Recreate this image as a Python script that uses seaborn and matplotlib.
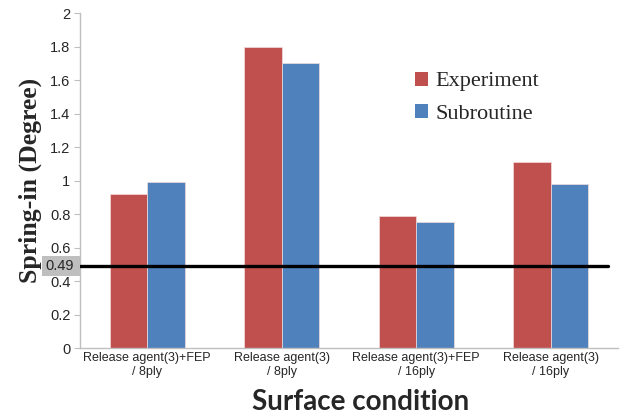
import matplotlib
matplotlib.use("Agg")
import matplotlib.pyplot as plt
import seaborn as sns
import pandas as pd
from matplotlib.patches import Rectangle
import matplotlib.transforms as mtransforms

categories = ["Release agent(3)+FEP\n/ 8ply", "Release agent(3)\n/ 8ply",
              "Release agent(3)+FEP\n/ 16ply", "Release agent(3)\n/ 16ply"]
experiment = [0.92, 1.80, 0.79, 1.11]
subroutine = [0.99, 1.70, 0.755, 0.98]
series_names = ["Experiment", "Subroutine"]
ref_value = 0.49
yticks = [0, 0.2, 0.4, 0.6, 0.8, 1.0, 1.2, 1.4, 1.6, 1.8, 2.0]
ytick_labels = ["0", "0.2", "0.4", "0.6", "0.8", "1", "1.2", "1.4", "1.6", "1.8", "2"]

df = pd.DataFrame({
    "cat": categories * 2,
    "series": [series_names[0]] * 4 + [series_names[1]] * 4,
    "value": experiment + subroutine,
})

sns.set_style("white")
fig = plt.figure(figsize=(6.26, 4.19), dpi=100)
ax = fig.add_axes([80 / 626, 1 - 348 / 419, (618 - 80) / 626, (348 - 13) / 419])

sns.barplot(data=df, x="cat", y="value", hue="series", order=categories,
            hue_order=series_names, palette=["#C0504D", "#4F81BD"],
            width=0.56, gap=0, ax=ax, errorbar=None, edgecolor="#f2dcdb",
            linewidth=0.5, saturation=1)

ax.set_xlim(-0.5, 3.5)
ax.set_ylim(0, 2)
ax.set_yticks(yticks)
ax.set_yticklabels(ytick_labels, fontsize=10.5, family="Liberation Sans")
ax.set_xticks(range(4))
ax.set_xticklabels(categories, fontsize=9, family="Liberation Sans", linespacing=1.25)
ax.set_xticks([-0.5, 0.5, 1.5, 2.5, 3.5], minor=True)
ax.tick_params(axis="x", which="major", length=0, pad=3)
ax.tick_params(axis="x", which="minor", length=5, color="#bfbfbf", direction="out")
ax.tick_params(axis="y", length=4, color="#bfbfbf", direction="out", left=True, pad=3)

for s in ["top", "right"]:
    ax.spines[s].set_visible(False)
for s in ["left", "bottom"]:
    ax.spines[s].set_color("#bfbfbf")
    ax.spines[s].set_linewidth(1.0)

ax.set_ylabel("Spring-in (Degree)", family="Liberation Serif", fontweight="bold",
              fontsize=18.5, labelpad=6)
ax.set_xlabel("Surface condition", family="Lato", fontweight="bold", fontsize=20)
ax.xaxis.set_label_coords((361 - 80) / 538, -(415 - 348) / 335, transform=ax.transAxes)
ax.xaxis.label.set_va("bottom")

# reference line
ax.axhline(ref_value, xmin=0, xmax=(608 - 80) / (618 - 80), color="black", lw=2.4, zorder=5)
trans = mtransforms.blended_transform_factory(ax.transAxes, ax.transData)
ax.add_patch(Rectangle((-38 / 538, ref_value - 0.058), 38 / 538, 0.116, transform=trans,
                       facecolor="#bfbfbf", edgecolor="none", clip_on=False, zorder=4))
ax.text(-0.012, ref_value, f"{ref_value}", transform=trans, ha="right", va="center",
        fontsize=10.5, family="Liberation Sans", zorder=6, clip_on=False)

leg = ax.legend(loc="upper left", bbox_to_anchor=(0.585, 0.885), frameon=False,
                prop={"family": "Liberation Serif", "size": 16},
                handlelength=0.6, handleheight=0.6, handletextpad=0.35,
                labelspacing=0.55)
for h in leg.legend_handles:
    h.set_edgecolor("none")

fig.savefig("out.png", dpi=100)
